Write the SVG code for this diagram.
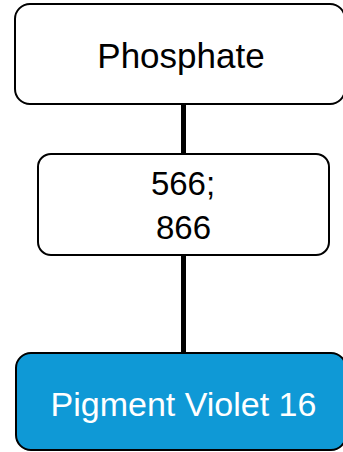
<svg xmlns="http://www.w3.org/2000/svg" width="343" height="452" viewBox="0 0 343 452">
  <style>
    .box { stroke: #000; stroke-width: 2; }
    .plain { fill: #fff; }
    .accent { fill: #0f99d6; }
    .label { font-family: "Liberation Sans", Arial, sans-serif; text-anchor: middle; }
    .edge { stroke: #000; stroke-width: 5; fill: none; }
  </style>
  <rect width="343" height="452" fill="#fff"/>
  <g id="connectors">
    <line class="edge" x1="183.5" y1="104" x2="183.5" y2="154"/>
    <line class="edge" x1="183.5" y1="255" x2="183.5" y2="353"/>
  </g>
  <g id="node-phosphate">
    <rect class="box plain" x="15" y="4" width="330" height="100" rx="15"/>
    <text class="label" x="181" y="68" font-size="35" fill="#000">Phosphate</text>
  </g>
  <g id="node-566-866">
    <rect class="box plain" x="38" y="154" width="291" height="101" rx="13"/>
    <text class="label" x="183" y="195" font-size="33" fill="#000">566;</text>
    <text class="label" x="183.5" y="239" font-size="33" fill="#000">866</text>
  </g>
  <g id="node-pigment-violet-16">
    <rect class="box accent" x="16" y="353" width="330" height="97" rx="15"/>
    <text class="label" x="183.5" y="416" font-size="34" fill="#fff">Pigment Violet 16</text>
  </g>
</svg>
